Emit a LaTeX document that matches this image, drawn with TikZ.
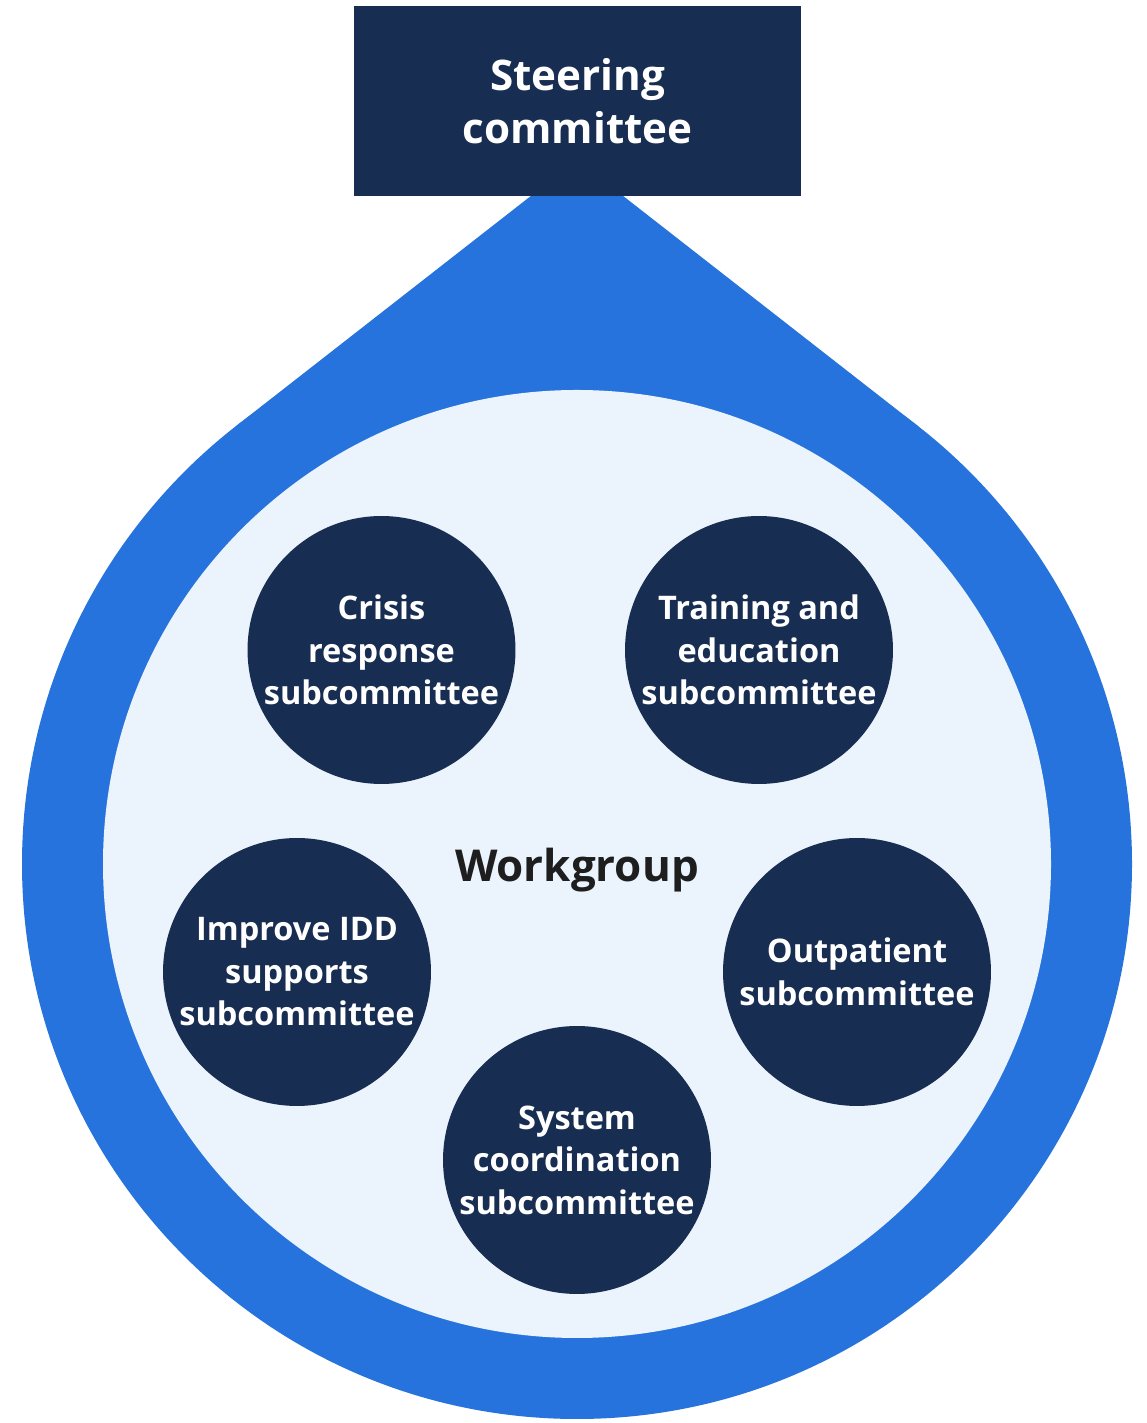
\documentclass[tikz,border=0pt]{standalone}
\usepackage{fontspec}
\setmainfont{Open Sans}
\usetikzlibrary{calc}
\definecolor{navy}{HTML}{182D52}
\definecolor{dropblue}{HTML}{2773DD}
\definecolor{pale}{HTML}{EBF3FD}
\definecolor{ink}{HTML}{1E1E1E}
\tikzset{
  sub/.style={circle, fill=navy, text=white, minimum size=5.36cm, inner sep=0pt, align=center,
    font=\bfseries\fontsize{18.5}{24.2}\selectfont},
  topbox/.style={rectangle, fill=navy, text=white, minimum width=8.94cm, minimum height=3.8cm, inner sep=0pt, align=center,
    font=\bfseries\fontsize{24}{30}\selectfont},
}
\begin{document}
\begin{tikzpicture}[x=0.02cm,y=0.02cm]
\useasboundingbox (0,0) rectangle (1146,1423);
\coordinate (C) at (577,559);
\coordinate (apex) at (577,1263);
\fill[dropblue] (apex) -- ($(C)+(127.96:555)$) -- (C) -- ($(C)+(52.04:555)$) -- cycle;
\fill[dropblue] (C) circle (555);
\fill[pale] (C) circle (474);
\node[topbox] (steer) at (577.5,1322) {Steering\\committee};
\node[font=\bfseries\fontsize{25}{30}\selectfont, text=ink] (wg) at (577,553) {Workgroup};
\node[sub] (crisis) at (381.5,773) {Crisis\\response\\subcommittee};
\node[sub] (train) at (759,773) {Training and\\education\\subcommittee};
\node[sub] (idd) at (297,451) {Improve IDD\\supports\\subcommittee};
\node[sub] (out) at (857,451) {Outpatient\\subcommittee};
\node[sub] (sys) at (577,263) {System\\coordination\\subcommittee};
\end{tikzpicture}
\end{document}
